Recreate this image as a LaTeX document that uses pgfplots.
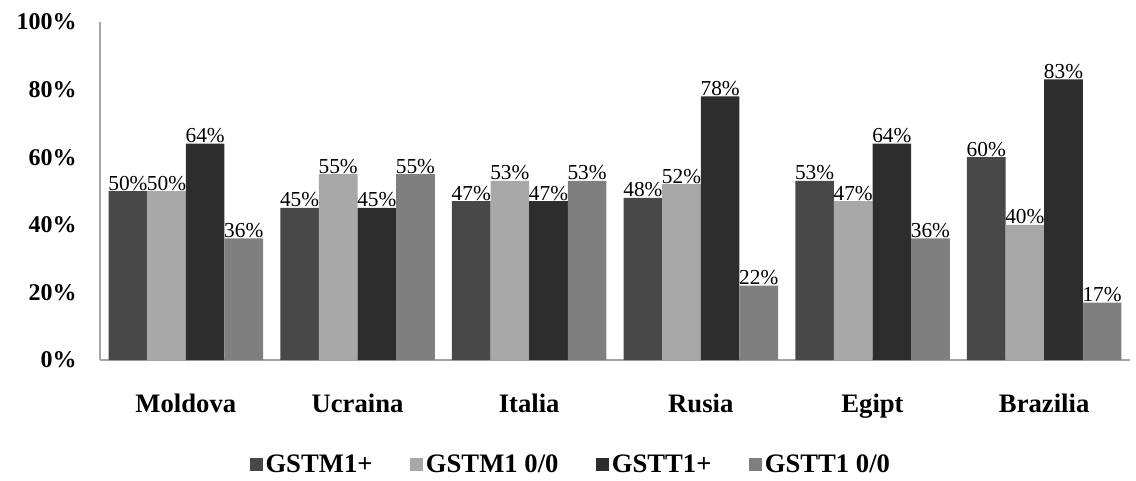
\documentclass[border=0pt]{standalone}
\usepackage{fontspec}
\setmainfont{Liberation Serif}
\usepackage{pgfplots}
\pgfplotsset{compat=1.18}
\definecolor{cA}{HTML}{484848}
\definecolor{cB}{HTML}{A8A8A8}
\definecolor{cC}{HTML}{2D2D2D}
\definecolor{cD}{HTML}{7F7F7F}
\begin{document}
\begin{tikzpicture}
\path[use as bounding box] (0,0) rectangle (852pt,360pt);
\begin{axis}[
  at={(75pt,90pt)}, anchor=south west,
  scale only axis, width=772.5pt, height=253.5pt,
  ymin=0, ymax=100, xmin=-0.5, xmax=5.5,
  /pgf/number format/assume math mode=true,
  ytick={0,20,40,60,80,100},
  yticklabel={\pgfmathprintnumber{\tick}\%},
  yticklabel style={font=\bfseries\fontsize{18}{20}\selectfont, xshift=-14pt},
  xtick={0,1,2,3,4,5},
  xticklabels={Moldova,Ucraina,Italia,Rusia,Egipt,Brazilia},
  xticklabel style={font=\bfseries\fontsize{20}{22}\selectfont, yshift=-22pt},
  major tick length=0pt,
  axis x line*=bottom, axis y line*=left,
  axis line style={gray!70, line width=1pt},
  ybar, bar width=0.225,
  nodes near coords={\pgfmathprintnumber{\pgfplotspointmeta}\%},
  every node near coord/.append style={font=\fontsize{16}{18}\selectfont, black, inner sep=0.3pt, anchor=south},
  legend style={draw=none, fill=none, at={(0.141,-0.31)}, anchor=west, legend columns=4,
    font=\bfseries\fontsize{20}{22}\selectfont,
    /tikz/every even column/.append style={column sep=26pt}},
  legend image code/.code={\fill[#1] (0pt,-5pt) rectangle (10pt,5pt);},
  clip=false,
]
\addplot[fill=cA, draw=none, bar shift=-0.3375] coordinates {(0,50) (1,45) (2,47) (3,48) (4,53) (5,60)};
\addplot[fill=cB, draw=none, bar shift=-0.1125] coordinates {(0,50) (1,55) (2,53) (3,52) (4,47) (5,40)};
\addplot[fill=cC, draw=none, bar shift=0.1125] coordinates {(0,64) (1,45) (2,47) (3,78) (4,64) (5,83)};
\addplot[fill=cD, draw=none, bar shift=0.3375] coordinates {(0,36) (1,55) (2,53) (3,22) (4,36) (5,17)};
\legend{GSTM1+, GSTM1 0/0, GSTT1+, GSTT1 0/0}
\end{axis}
\end{tikzpicture}
\end{document}
